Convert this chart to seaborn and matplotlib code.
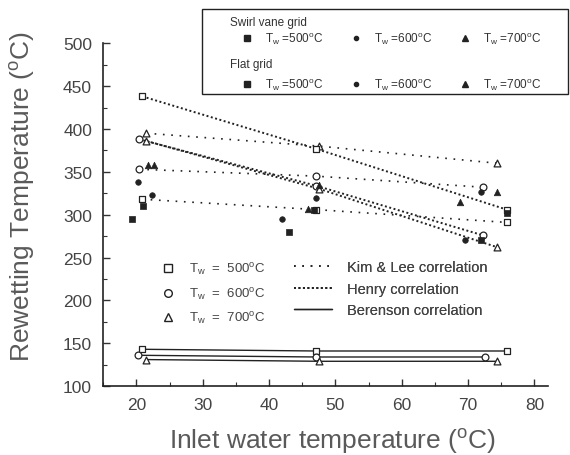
import pandas as pd
import seaborn as sns
import matplotlib.pyplot as plt
from matplotlib.lines import Line2D
from matplotlib.patches import Rectangle
from matplotlib.ticker import MultipleLocator

# Kim & Lee correlation (wall temperature 500 / 600 / 700 C)
kim_x_500 = [20.9, 47.0, 75.8]
kim_y_500 = [318, 306, 291]
kim_x_600 = [20.4, 47.0, 72.3]
kim_y_600 = [353, 345, 332]
kim_x_700 = [21.5, 47.5, 74.4]
kim_y_700 = [395, 380, 360]

# Henry correlation
henry_x_500 = [20.9, 47.0, 75.8]
henry_y_500 = [438, 377, 306]
henry_x_600 = [20.4, 47.0, 72.2]
henry_y_600 = [388, 334, 276]
henry_x_700 = [21.5, 47.6, 74.4]
henry_y_700 = [386, 330, 262]

# Berenson correlation
beren_x_500 = [20.9, 47.1, 75.8]
beren_y_500 = [143, 141, 141]
beren_x_600 = [20.3, 47.1, 72.5]
beren_y_600 = [136, 134, 134]
beren_x_700 = [21.5, 47.6, 74.4]
beren_y_700 = [131, 129, 129]

# experiments, swirl vane grid
swirl_x_500 = [21.0, 46.8, 75.8]
swirl_y_500 = [310, 306, 302]
swirl_x_600 = [20.3, 47.0, 72.0]
swirl_y_600 = [338, 320, 326]
swirl_x_700 = [21.7, 47.6, 74.3]
swirl_y_700 = [358, 335, 327]

# experiments, flat grid
flat_x_500 = [19.4, 43.0, 72.0]
flat_y_500 = [295, 280, 271]
flat_x_600 = [22.3, 42.0, 69.5]
flat_y_600 = [323, 295, 271]
flat_x_700 = [22.6, 45.8, 68.7]
flat_y_700 = [358, 307, 315]

temps = [500, 600, 700]
open_markers = {500: "s", 600: "o", 700: "^"}
filled_markers = {500: "s", 600: "o", 700: "^"}

sns.set_style("ticks")
plt.rcParams["font.family"] = ["Liberation Sans", "DejaVu Sans"]
plt.rcParams["mathtext.fontset"] = "custom"
plt.rcParams["mathtext.rm"] = "Liberation Sans"
plt.rcParams["mathtext.it"] = "Liberation Sans"

fig = plt.figure(figsize=(5.7, 4.56), dpi=100)
ax = fig.add_axes([0.181, 0.151, 0.78, 0.752])

corr = {
    "kim": ([kim_x_500, kim_x_600, kim_x_700], [kim_y_500, kim_y_600, kim_y_700]),
    "henry": ([henry_x_500, henry_x_600, henry_x_700], [henry_y_500, henry_y_600, henry_y_700]),
    "beren": ([beren_x_500, beren_x_600, beren_x_700], [beren_y_500, beren_y_600, beren_y_700]),
}
styles = {
    "kim": dict(linestyle=(0, (1, 4)), linewidth=1.2),
    "henry": dict(linestyle=(0, (1, 1.3)), linewidth=1.4),
    "beren": dict(linestyle="-", linewidth=1.0),
}

for name, (xs, ys) in corr.items():
    for t, x, y in zip(temps, xs, ys):
        df = pd.DataFrame({"x": x, "y": y})
        sns.lineplot(data=df, x="x", y="y", ax=ax, color="#222222", sort=False,
                     estimator=None, **styles[name])
        sns.scatterplot(data=df, x="x", y="y", ax=ax, marker=open_markers[t],
                        s=24, facecolor="white", edgecolor="#222222", linewidth=0.9,
                        zorder=3)

exp_sets = [
    (swirl_x_500, swirl_y_500, 500), (swirl_x_600, swirl_y_600, 600), (swirl_x_700, swirl_y_700, 700),
    (flat_x_500, flat_y_500, 500), (flat_x_600, flat_y_600, 600), (flat_x_700, flat_y_700, 700),
]
for x, y, t in exp_sets:
    df = pd.DataFrame({"x": x, "y": y})
    sns.scatterplot(data=df, x="x", y="y", ax=ax, marker=filled_markers[t],
                    s=22 if t != 600 else 16, color="#222222", edgecolor="#222222",
                    linewidth=0.5, zorder=4)

ax.set_xlim(15, 82)
ax.set_ylim(100, 500)
ax.xaxis.set_major_locator(MultipleLocator(10))
ax.xaxis.set_minor_locator(MultipleLocator(5))
ax.yaxis.set_major_locator(MultipleLocator(50))
ax.yaxis.set_minor_locator(MultipleLocator(25))
ax.tick_params(which="both", direction="in", colors="#333333", labelsize=12.5,
               labelcolor="#444444")
ax.tick_params(which="major", length=5, width=1.0)
ax.tick_params(axis="y", which="major", pad=8)
ax.tick_params(axis="x", which="major", pad=8)
ax.tick_params(which="minor", length=3, width=0.8)
for side in ["top", "right"]:
    ax.spines[side].set_visible(False)
for side in ["left", "bottom"]:
    ax.spines[side].set_color("#222222")
    ax.spines[side].set_linewidth(1.2)

ax.set_xlabel("Inlet water temperature ($^{\\rm o}$C)", fontsize=19, color="#5a5a5a")
ax.set_ylabel("Rewetting Temperature ($^{\\rm o}$C)", fontsize=19, color="#5a5a5a")
ax.xaxis.set_label_coords(0.515, -0.115)
ax.yaxis.set_label_coords(-0.148, 0.555)

# legend of open symbols
lab = [r"T$_{\rm w}$  =  %d$^{\rm o}$C" % t for t in temps]
h_open = [Line2D([], [], marker=open_markers[t], linestyle="none", markersize=5.5,
                 markerfacecolor="white", markeredgecolor="#222222") for t in temps]
leg1 = ax.legend(h_open, lab, loc="upper left", bbox_to_anchor=(0.09, 0.40),
                 frameon=False, fontsize=9.5, handletextpad=0.6, labelspacing=0.65,
                 labelcolor="#444444")
ax.add_artist(leg1)

h_corr = [Line2D([], [], color="#222222", **styles[k]) for k in ["kim", "henry", "beren"]]
leg2 = ax.legend(h_corr, ["Kim & Lee correlation", "Henry correlation", "Berenson correlation"],
                 loc="upper left", bbox_to_anchor=(0.40, 0.405), frameon=False, fontsize=10.5,
                 handlelength=2.6, handletextpad=1.0, labelspacing=0.5, labelcolor="#444444")
ax.add_artist(leg2)

# top legend box in figure coordinates
fig.patches.append(Rectangle((202 / 570, 1 - 95 / 456), 366 / 570, 85 / 456,
                             transform=fig.transFigure, facecolor="white",
                             edgecolor="#222222", linewidth=1.0, zorder=5))
fig.text(230 / 570, 1 - 23 / 456, "Swirl vane grid", fontsize=8.5, color="#333333",
         va="center", zorder=6)
fig.text(230 / 570, 1 - 65 / 456, "Flat grid", fontsize=8.5, color="#333333",
         va="center", zorder=6)
h_fill = [Line2D([], [], marker=filled_markers[t], linestyle="none",
                 markersize=4 if t != 600 else 3, color="#222222") for t in temps]
lab_top = [r"T$_{\rm w}$ =%d$^{\rm o}$C" % t for t in temps]
for ypx in [39, 85]:
    lg = fig.legend(h_fill, lab_top, loc="center left", ncol=3,
                    bbox_to_anchor=(235 / 570, 1 - ypx / 456), frameon=False, fontsize=8.5,
                    handletextpad=0.9, columnspacing=2.2, handlelength=1.2,
                    labelcolor="#333333", borderaxespad=0.0)
    lg.set_zorder(7)

fig.savefig("out.png", dpi=100)
